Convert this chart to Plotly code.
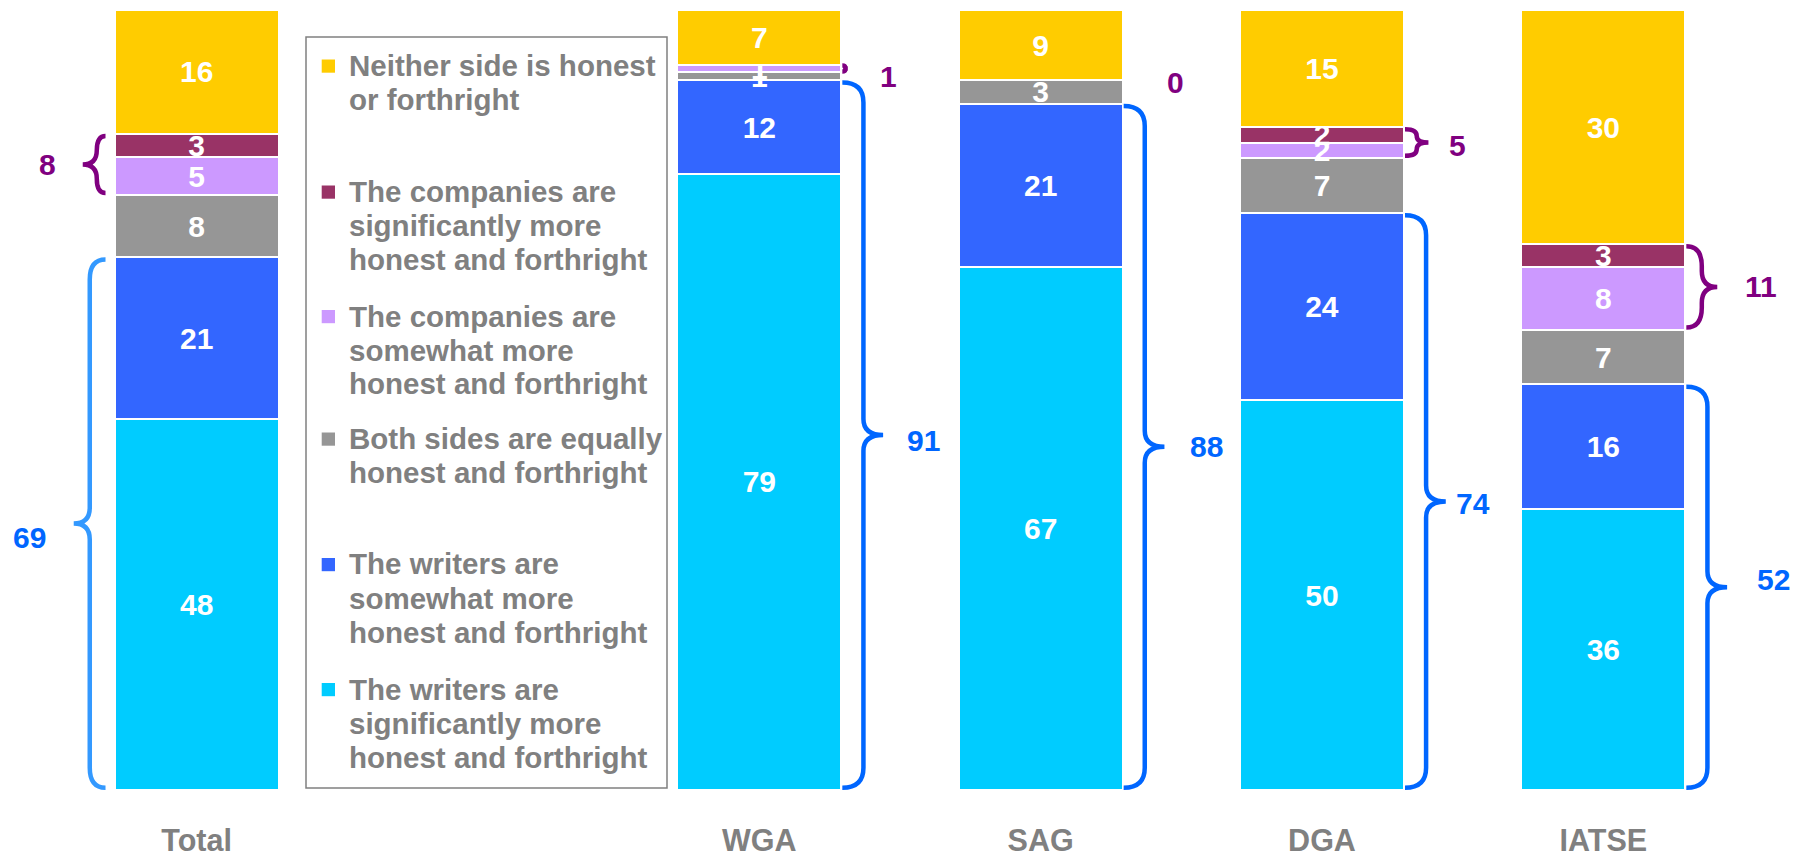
import plotly.graph_objects as go

# ---------------- data ----------------
groups = ["Total", "WGA", "SAG", "DGA", "IATSE"]
neither = [16, 7, 9, 15, 30]
companies_significantly = [3, 0, 0, 2, 3]
companies_somewhat = [5, 1, 0, 2, 8]
both_equal = [8, 1, 3, 7, 7]
writers_somewhat = [21, 12, 21, 24, 16]
writers_significantly = [48, 79, 67, 50, 36]
companies_net = [8, 1, 0, 5, 11]
writers_net = [69, 91, 88, 74, 52]

name_neither = "Neither side is honest<br>or forthright"
name_comp_sig = "The companies are<br>significantly more<br>honest and forthright"
name_comp_some = "The companies are<br>somewhat more<br>honest and forthright"
name_both = "Both sides are equally<br>honest and forthright"
name_writ_some = "The writers are<br>somewhat more<br>honest and forthright"
name_writ_sig = "The writers are<br>significantly more<br>honest and forthright"

# ---------------- layout constants ----------------
W, H = 1808, 858
ML, MR, MT, MB = 56, 64, 10, 68
PW, PH = W - ML - MR, H - MT - MB
X_MIN, X_MAX = -0.5, 5.5
x_slots = [0, 2, 3, 4, 5]          # slot 1 holds the legend
FONT = "Liberation Sans, Arial, Helvetica, sans-serif"
GRAY_TXT = "#808080"
PURPLE = "#800080"
BLUE_TXT = "#0066FF"
BLUE_BRACE = ["#3399FF", "#0066FF", "#0066FF", "#0066FF", "#0066FF"]
BAR_W = 0.583
px_per_x = PW / (X_MAX - X_MIN)
px_per_y = PH / 100.0


def px_x(px):
    return (px - ML) / PW


def px_y(py):
    return (H - MB - py) / PH


def dx_paper(xd):
    return (xd - X_MIN) / (X_MAX - X_MIN)


stack = [
    (writers_significantly, name_writ_sig, "#00CCFF"),
    (writers_somewhat, name_writ_some, "#3366FF"),
    (both_equal, name_both, "#969696"),
    (companies_somewhat, name_comp_some, "#CC99FF"),
    (companies_significantly, name_comp_sig, "#993366"),
    (neither, name_neither, "#FFCC00"),
]

fig = go.Figure()
for vals, name, color in stack:
    fig.add_trace(go.Bar(
        x=x_slots, y=vals, name=name.replace("<br>", " "),
        width=BAR_W,
        marker=dict(color=color, line=dict(color="white", width=2)),
        text=[str(v) if v else "" for v in vals],
        textposition="inside", insidetextanchor="middle",
        textangle=0, constraintext="none",
        textfont=dict(family=FONT, size=30, color="white", weight="bold"),
        showlegend=False, hoverinfo="skip",
    ))

# ---------------- braces ----------------
def brace_path(xc, side, edge, vert, tip, ylo, yhi):
    span_px = (yhi - ylo) * px_per_y
    f = min(1.0, span_px / 35.0)
    vert = edge + (vert - edge) * f
    tip = edge + (tip - edge) * f
    xe, xv, xt = xc + side * edge, xc + side * vert, xc + side * tip
    re = min(20.0, span_px / 4.0) / px_per_y
    rt = min(16.0, span_px / 4.0) / px_per_y
    ym = (ylo + yhi) / 2.0
    return (f"M {xe},{yhi} Q {xv},{yhi} {xv},{yhi - re} "
            f"L {xv},{ym + rt} Q {xv},{ym} {xt},{ym} "
            f"Q {xv},{ym} {xv},{ym - rt} "
            f"L {xv},{ylo + re} Q {xv},{ylo} {xe},{ylo}")


# label placement (offsets from bar centre in slot units, vertical nudges in px)
blue_label_dx = [-0.595, 0.582, 0.589, 0.537, 0.604]
purple_label_dx = [-0.53, 0.459, 0.478, 0.483, 0.562]
blue_label_dy_px = [14, 5, 0, 2, -8]
purple_label_dy_px = [0, 8, 2, 3, 0]
inset = 0.3

for i, xc in enumerate(x_slots):
    tot = (neither[i] + companies_significantly[i] + companies_somewhat[i]
           + both_equal[i] + writers_somewhat[i] + writers_significantly[i])
    scale = 100.0 / tot
    w_top = (writers_significantly[i] + writers_somewhat[i]) * scale
    c_lo = w_top + both_equal[i] * scale
    c_hi = c_lo + (companies_somewhat[i] + companies_significantly[i]) * scale
    side = -1 if i == 0 else 1
    if i == 0:
        bcfg = (0.324, 0.38, 0.437)
        pcfg = (0.324, 0.355, 0.405)
    else:
        bcfg = (0.295, 0.37, 0.44)
        pcfg = (0.295, 0.35, 0.405)
    # writers brace
    fig.add_shape(type="path", xref="x", yref="y",
                  path=brace_path(xc, side, *bcfg, 0 + inset, w_top - inset),
                  line=dict(color=BLUE_BRACE[i], width=4.5))
    fig.add_annotation(x=dx_paper(xc + blue_label_dx[i]),
                       y=(w_top / 2.0) / 100.0 - blue_label_dy_px[i] / PH,
                       xref="paper", yref="paper", xanchor="center", yanchor="middle",
                       text=str(writers_net[i]), showarrow=False,
                       font=dict(family=FONT, size=30, color=BLUE_TXT, weight="bold"))
    # companies brace
    if c_hi - c_lo > 0:
        ins = min(inset, (c_hi - c_lo) * 0.1)
        fig.add_shape(type="path", xref="x", yref="y",
                      path=brace_path(xc, side, *pcfg, c_lo + ins, c_hi - ins),
                      line=dict(color=PURPLE, width=4.5))
    fig.add_annotation(x=dx_paper(xc + purple_label_dx[i]),
                       y=((c_lo + c_hi) / 2.0) / 100.0 - purple_label_dy_px[i] / PH,
                       xref="paper", yref="paper", xanchor="center", yanchor="middle",
                       text=str(companies_net[i]), showarrow=False,
                       font=dict(family=FONT, size=30, color=PURPLE, weight="bold"))

# ---------------- legend (drawn manually) ----------------
fig.add_shape(type="rect", xref="paper", yref="paper",
              x0=px_x(306), x1=px_x(667), y0=px_y(788), y1=px_y(37),
              line=dict(color="#808080", width=1.5), fillcolor="rgba(0,0,0,0)")
legend_order = list(reversed(stack))
legend_first_y = [65.5, 191.5, 316, 438.5, 564, 689]
line_gap = 34.0
for (vals, name, color), y0 in zip(legend_order, legend_first_y):
    fig.add_shape(type="rect", xref="paper", yref="paper",
                  x0=px_x(321.7), x1=px_x(335), y0=px_y(y0 + 7.2), y1=px_y(y0 - 6.0),
                  line=dict(width=0), fillcolor=color)
    for k, line in enumerate(name.split("<br>")):
        fig.add_annotation(x=px_x(347), y=px_y(y0 + k * line_gap), xref="paper", yref="paper",
                           text=line, showarrow=False, xanchor="left", yanchor="middle",
                           font=dict(family=FONT, size=29.5, color=GRAY_TXT, weight="bold"))

fig.update_layout(
    width=W, height=H,
    margin=dict(l=ML, r=MR, t=MT, b=MB, pad=0, autoexpand=False),
    barmode="stack", barnorm="percent",
    plot_bgcolor="white", paper_bgcolor="white",
    xaxis=dict(range=[X_MIN, X_MAX], tickvals=x_slots, ticktext=groups,
               showgrid=False, zeroline=False, showline=False, ticks="",
               automargin=False, ticklabelstandoff=29,
               tickfont=dict(family=FONT, size=30.5, color=GRAY_TXT, weight="bold")),
    yaxis=dict(range=[0, 100], visible=False, showgrid=False, zeroline=False,
               automargin=False),
)

fig.write_html("out.html", config={"displayModeBar": False},
               post_script="document.body.style.margin='0';")
